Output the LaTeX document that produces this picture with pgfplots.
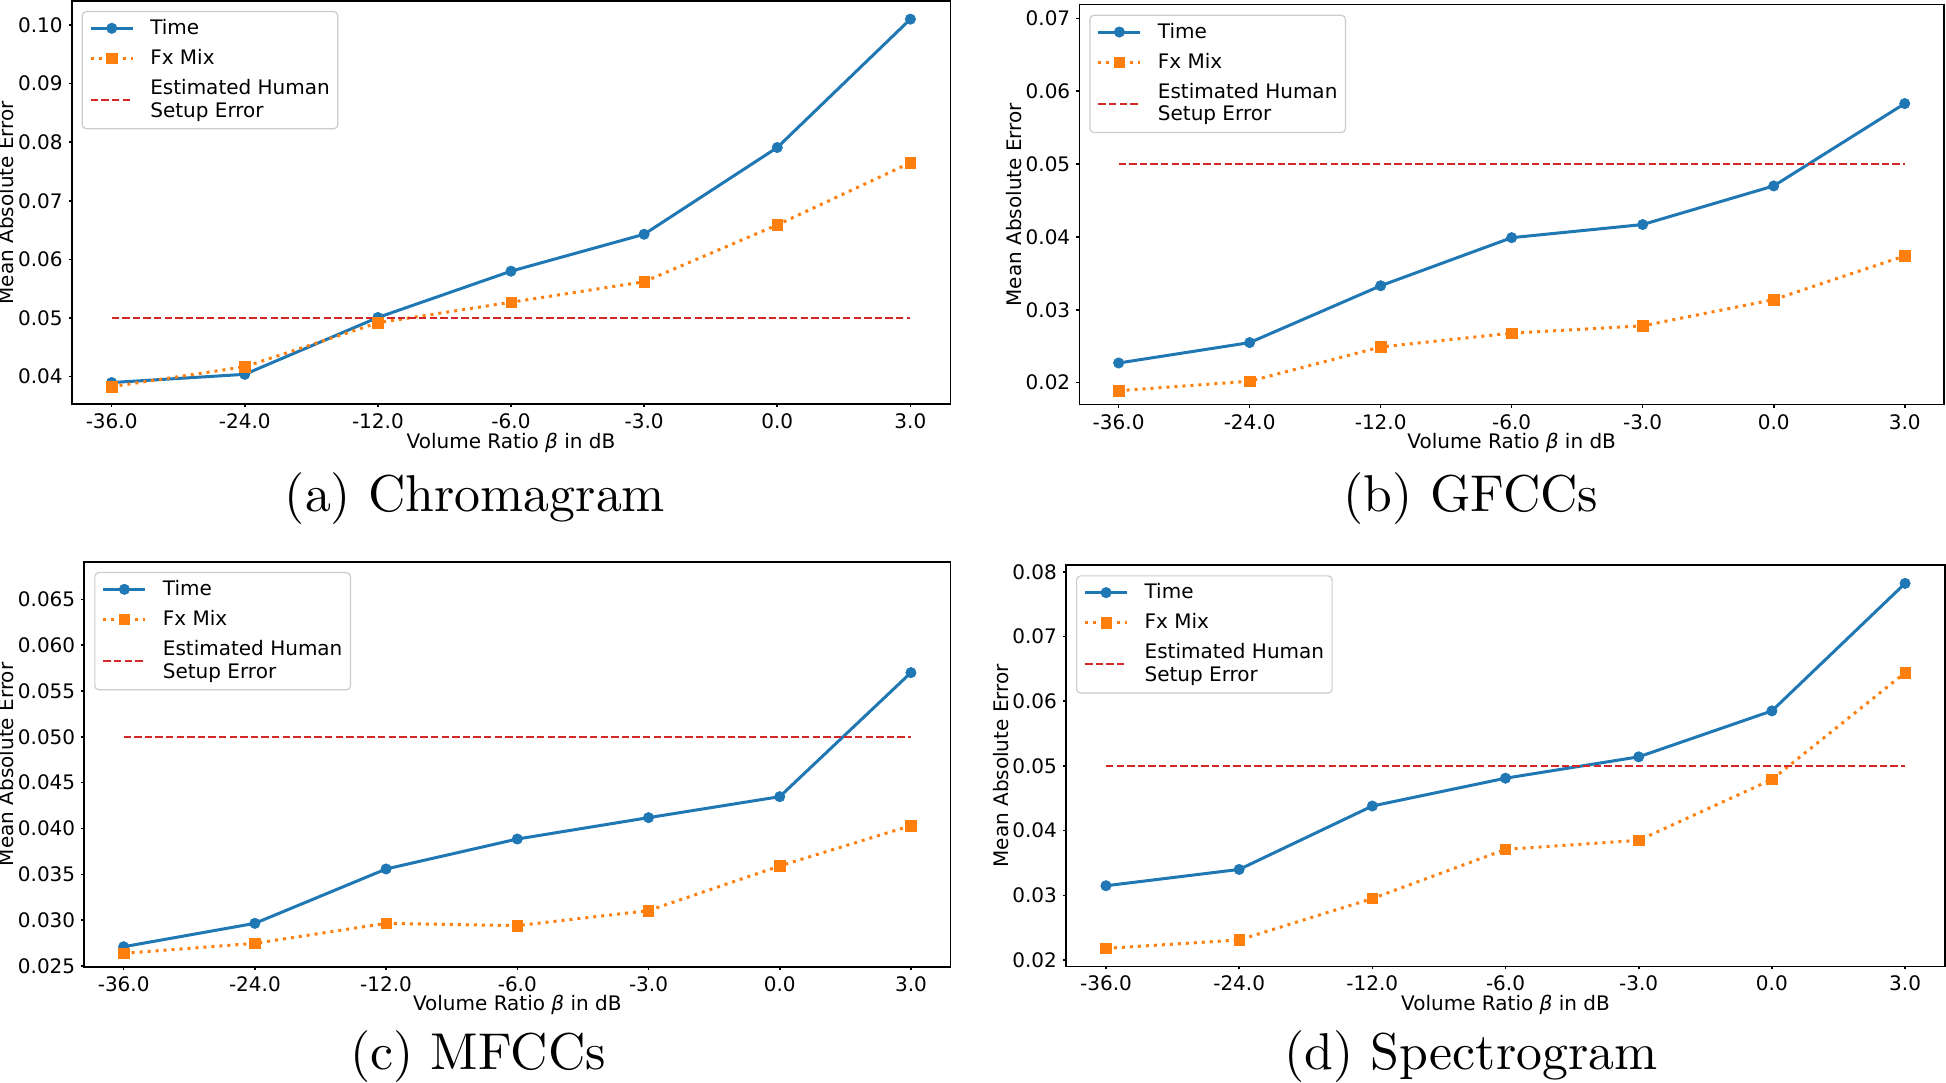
\documentclass[border=0pt]{standalone}
\usepackage{fontspec}
\usepackage{pgfplots}
\pgfplotsset{compat=1.18}
\newfontfamily\dejavu{DejaVu Sans}
\newfontfamily\capfont{lmroman10-regular.otf}
\definecolor{tabblue}{HTML}{1F77B4}
\definecolor{taborange}{HTML}{FF7F0E}
\definecolor{hred}{HTML}{D62728}
\pgfplotsset{
 panel/.style={
  scale only axis,
  xmin=-0.3, xmax=6.3,
  xtick={0,1,2,3,4,5,6},
  xticklabels={-36.0,-24.0,-12.0,-6.0,-3.0,0.0,3.0},
  xtick pos=bottom, ytick pos=left,
  tick align=outside,
  major tick length=1.5pt,
  tick style={black, line width=0.8pt},
  axis line style={line width=0.8pt},
  scaled y ticks=false,
  /pgf/number format/assume math mode=true,
  ticklabel style={font=\dejavu\fontsize{10}{12}\selectfont},
  xticklabel style={inner sep=0pt, yshift=-3.2pt},
  yticklabel style={inner sep=0pt, xshift=-2.85pt},
  label style={font=\dejavu\fontsize{10}{12}\selectfont},
  xlabel={Volume Ratio \textit{β} in dB},
  ylabel={Mean Absolute Error},
  xlabel style={at={(axis description cs:0.5,0)}, anchor=north, inner sep=0pt, yshift=-14.15pt},
  ylabel style={inner sep=1.75pt},
  legend cell align=left,
  legend style={font=\dejavu\fontsize{10}{11.2}\selectfont,
    at={(0,1)}, anchor=north west, xshift=5pt, yshift=-5pt,
    draw=black!20, fill=white, rounded corners=2pt, line width=0.6pt,
    inner xsep=3.5pt, inner ysep=3.2pt,
    nodes={inner sep=0.5pt},
    /tikz/row sep=4.65pt, /tikz/column sep=7.5pt},
  legend image code/.code={\draw[mark repeat=2,mark phase=2,##1] plot coordinates {(0pt,0pt) (10.5pt,0pt) (21pt,0pt)};},
 },
 timeplot/.style={tabblue, line width=1.5pt, solid, mark=*, mark size=2.6pt, mark options={solid, line width=0.3pt, fill=tabblue, draw=tabblue}},
 fxplot/.style={taborange, line width=1.5pt, dash pattern=on 1.5pt off 2.5pt, mark=square*, mark size=2.6pt, mark options={solid, line width=0.3pt, fill=taborange, draw=taborange}},
 humanplot/.style={hred, line width=1pt, dash pattern=on 3.7pt off 1.6pt, no markers, legend image post style={yshift=-5.9pt}},
}
\newcommand{\humanentry}{\vtop{\hbox{\strut Estimated Human}\hbox{\strut Setup Error}}}
\newcommand{\legendpad}{\addlegendimage{empty legend}\addlegendentry{\rule{0pt}{3.5pt}}}
\begin{document}
\begin{tikzpicture}
\useasboundingbox (0,0) rectangle (973pt,541pt);

% (a) Chromagram
\begin{axis}[panel, at={(35.85pt,338.85pt)}, anchor=south west,
  width=439.3pt, height=201.65pt,
  ymin=0.03529, ymax=0.1041,
  ytick={0.04,0.05,0.06,0.07,0.08,0.09,0.10},
  yticklabel style={/pgf/number format/fixed, /pgf/number format/fixed zerofill, /pgf/number format/precision=2}]
\addplot[timeplot] coordinates {(0,0.0390) (1,0.0404) (2,0.0501) (3,0.0580) (4,0.0643) (5,0.0791) (6,0.1010)};
\addlegendentry{\strut Time}
\addplot[fxplot] coordinates {(0,0.0383) (1,0.0417) (2,0.0492) (3,0.0527) (4,0.0562) (5,0.0659) (6,0.0765)};
\addlegendentry{\strut Fx Mix}
\addplot[humanplot] coordinates {(0,0.05) (6,0.05)};
\addlegendentry{\humanentry}
\legendpad
\end{axis}

% (b) GFCCs
\begin{axis}[panel, at={(539.65pt,338.65pt)}, anchor=south west,
  width=432.35pt, height=200pt,
  ymin=0.01698, ymax=0.07187,
  ytick={0.02,0.03,0.04,0.05,0.06,0.07},
  yticklabel style={/pgf/number format/fixed, /pgf/number format/fixed zerofill, /pgf/number format/precision=2}]
\addplot[timeplot] coordinates {(0,0.0227) (1,0.0255) (2,0.0333) (3,0.0399) (4,0.0417) (5,0.0470) (6,0.0583)};
\addlegendentry{\strut Time}
\addplot[fxplot] coordinates {(0,0.0189) (1,0.0202) (2,0.0249) (3,0.0268) (4,0.0278) (5,0.0314) (6,0.0374)};
\addlegendentry{\strut Fx Mix}
\addplot[humanplot] coordinates {(0,0.05) (6,0.05)};
\addlegendentry{\humanentry}
\legendpad
\end{axis}

% (c) MFCCs
\begin{axis}[panel, at={(42.15pt,57.65pt)}, anchor=south west,
  width=433pt, height=202.35pt,
  ymin=0.02492, ymax=0.06907,
  ytick={0.025,0.030,0.035,0.040,0.045,0.050,0.055,0.060,0.065},
  yticklabel style={/pgf/number format/fixed, /pgf/number format/fixed zerofill, /pgf/number format/precision=3}]
\addplot[timeplot] coordinates {(0,0.0271) (1,0.02965) (2,0.03558) (3,0.03885) (4,0.04118) (5,0.04347) (6,0.0570)};
\addlegendentry{\strut Time}
\addplot[fxplot] coordinates {(0,0.02638) (1,0.02747) (2,0.02965) (3,0.0294) (4,0.03104) (5,0.03591) (6,0.04031)};
\addlegendentry{\strut Fx Mix}
\addplot[humanplot] coordinates {(0,0.05) (6,0.05)};
\addlegendentry{\humanentry}
\legendpad
\end{axis}

% (d) Spectrogram
\begin{axis}[panel, at={(533pt,57.85pt)}, anchor=south west,
  width=439.5pt, height=200.5pt,
  ymin=0.01903, ymax=0.0810,
  ytick={0.02,0.03,0.04,0.05,0.06,0.07,0.08},
  yticklabel style={/pgf/number format/fixed, /pgf/number format/fixed zerofill, /pgf/number format/precision=2}]
\addplot[timeplot] coordinates {(0,0.03148) (1,0.0340) (2,0.0438) (3,0.0481) (4,0.0514) (5,0.0585) (6,0.0782)};
\addlegendentry{\strut Time}
\addplot[fxplot] coordinates {(0,0.0218) (1,0.0231) (2,0.0295) (3,0.0371) (4,0.0385) (5,0.0479) (6,0.0644)};
\addlegendentry{\strut Fx Mix}
\addplot[humanplot] coordinates {(0,0.05) (6,0.05)};
\addlegendentry{\humanentry}
\legendpad
\end{axis}

\begin{scope}[every node/.style={anchor=base, inner sep=0pt, font=\capfont\fontsize{25.9}{30}\selectfont}]
\node at (237.5pt,285pt) {(a) Chromagram};
\node at (735.5pt,285pt) {(b) GFCCs};
\node at (239pt,6.5pt) {(c) MFCCs};
\node at (735.5pt,6.5pt) {(d) Spectrogram};
\end{scope}
\end{tikzpicture}
\end{document}
